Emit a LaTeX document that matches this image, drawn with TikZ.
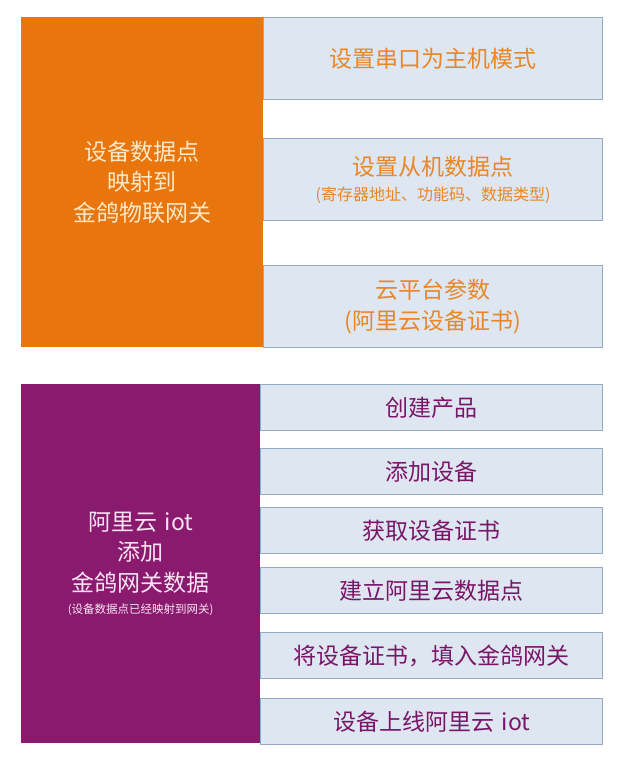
\documentclass[tikz,border=0pt]{standalone}
\usepackage{fontspec}
\setmainfont{Noto Sans CJK SC}
\usepackage{tikz}
\usetikzlibrary{positioning}
\definecolor{mapfill}{RGB}{232,118,12}
\definecolor{alifill}{RGB}{138,26,110}
\definecolor{stepfill}{RGB}{221,230,241}
\definecolor{stepline}{RGB}{150,170,196}
\definecolor{maptext}{RGB}{233,135,40}
\definecolor{alitext}{RGB}{122,22,104}
\definecolor{mapcream}{RGB}{252,232,200}
\definecolor{alipink}{RGB}{250,228,244}

\begin{document}
\begin{tikzpicture}[x=1pt,y=-1pt,
  block/.style={anchor=north west,inner sep=0pt,align=center,text width=#1},
  mapblock/.style={block=242pt,fill=mapfill,text=mapcream,minimum height=330pt},
  aliblock/.style={block=239pt,fill=alifill,text=alipink,minimum height=359pt},
  stepbox/.style={block=#1,fill=stepfill,draw=stepline,line width=1.2pt},
  mapstep/.style={stepbox=339pt,text=maptext,minimum height=82pt},
  alistep/.style={stepbox=342pt,text=alitext,minimum height=46pt},
  big/.style={font=\fontsize{23}{30.5}\selectfont}]
\useasboundingbox (0,0) rectangle (624,757);

\node[mapblock,big] (map) at (21,17) {设备数据点\\映射到\\金鸽物联网关};
\node[mapstep,big] (serial) at (263,17) {设置串口为主机模式};
\node[mapstep,font=\fontsize{16}{25}\selectfont] (slave) at (263,138) {{\fontsize{23}{25}\selectfont 设置从机数据点}\\(寄存器地址、功能码、数据类型)};
\node[mapstep,big] (cloud) at (263,265) {云平台参数\\(阿里云设备证书)};

\node[aliblock,big] (ali) at (21,384) {阿里云 iot\\添加\\金鸽网关数据\\[-8.5pt]{\fontsize{11.5}{13}\selectfont (设备数据点已经映射到网关)}};
\node[alistep,big] (product) at (260,384) {创建产品};
\node[alistep,big] (device) at (260,448) {添加设备};
\node[alistep,big] (cert) at (260,507) {获取设备证书};
\node[alistep,big] (points) at (260,567) {建立阿里云数据点};
\node[alistep,big] (fill) at (260,632) {将设备证书，填入金鸽网关};
\node[alistep,big] (online) at (260,698) {设备上线阿里云 iot};

\end{tikzpicture}
\end{document}
